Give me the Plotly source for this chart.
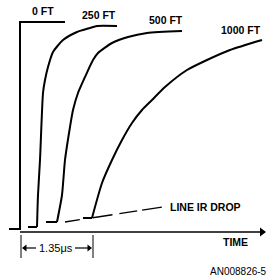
import plotly.graph_objects as go

# ---- data (time units / voltage units) ----
t_0ft = [9, 20, 20, 65]
v_0ft = [50, 50, 257, 257]

t_250ft = [28, 37, 38, 40, 43, 45, 48, 53, 63, 77, 90, 97, 117]
v_250ft = [52, 52, 84, 119, 186, 199, 212, 227, 239, 247, 251, 253, 253]

t_500ft = [46, 57, 62, 65, 70, 73, 78, 85, 93, 98, 112, 128, 147, 182]
v_500ft = [57, 57, 84, 119, 152, 169, 186, 202, 219, 226, 236, 242, 246, 248]

t_1000ft = [83, 92, 102, 112, 122, 132, 142, 152, 165, 187, 207, 230, 262]
v_1000ft = [61, 61, 96, 119, 139, 156, 169, 179, 192, 209, 219, 229, 239]

t_irdrop = [65, 163]
v_irdrop = [57, 72]

t_axis = [20, 262]
v_axis = [47, 47]

dim_t = [21, 93]
dim_v_top = 44
dim_v_bot = 21
dim_v_arrow = 31

series_labels = ["0 FT", "250 FT", "500 FT", "1000 FT"]
label_t = [43, 99, 166, 241]
label_v = [268, 264, 259, 249]

BLACK = "#000000"
LABEL_FONT = dict(family="Liberation Sans, Arial, sans-serif", size=10.5, color=BLACK, weight=700)

fig = go.Figure()

def add_step(t, v):
    # flat baseline with a sharp corner, then the smooth rise
    fig.add_trace(go.Scatter(x=t[:2], y=v[:2], mode="lines",
                             line=dict(color=BLACK, width=2), hoverinfo="skip"))
    fig.add_trace(go.Scatter(x=t[1:], y=v[1:], mode="lines",
                             line=dict(color=BLACK, width=2, shape="spline", smoothing=0.6),
                             hoverinfo="skip"))

fig.add_trace(go.Scatter(x=t_0ft, y=v_0ft, mode="lines",
                         line=dict(color=BLACK, width=2), hoverinfo="skip"))
add_step(t_250ft, v_250ft)
add_step(t_500ft, v_500ft)
add_step(t_1000ft, v_1000ft)

# line IR drop (dashed)
fig.add_trace(go.Scatter(x=t_irdrop, y=v_irdrop, mode="lines",
                         line=dict(color=BLACK, width=1.3,
                                   dash="15px,13px,20px,7px,18px,5px,20px,100px"),
                         hoverinfo="skip"))

# time axis with arrow
fig.add_trace(go.Scatter(x=t_axis, y=v_axis, mode="lines",
                         line=dict(color=BLACK, width=1.5), hoverinfo="skip"))
fig.add_trace(go.Scatter(x=[t_axis[1]], y=[v_axis[1]], mode="markers",
                         marker=dict(symbol="triangle-right", size=8, color=BLACK),
                         hoverinfo="skip"))

# dimension ticks
for t in dim_t:
    fig.add_trace(go.Scatter(x=[t, t], y=[dim_v_top, dim_v_bot], mode="lines",
                             line=dict(color=BLACK, width=1), hoverinfo="skip"))
# dimension arrows
fig.add_trace(go.Scatter(x=[dim_t[0] + 2, dim_t[0] + 15], y=[dim_v_arrow] * 2, mode="lines",
                         line=dict(color=BLACK, width=1.2), hoverinfo="skip"))
fig.add_trace(go.Scatter(x=[dim_t[1] - 18, dim_t[1] - 2], y=[dim_v_arrow] * 2, mode="lines",
                         line=dict(color=BLACK, width=1.2), hoverinfo="skip"))
fig.add_trace(go.Scatter(x=[dim_t[0] + 4, dim_t[1] - 4], y=[dim_v_arrow] * 2, mode="markers",
                         marker=dict(symbol=["triangle-left", "triangle-right"], size=6, color=BLACK),
                         hoverinfo="skip"))

for txt, t, v in zip(series_labels, label_t, label_v):
    fig.add_annotation(x=t, y=v, text=txt, showarrow=False, font=LABEL_FONT,
                       xanchor="center", yanchor="middle")

fig.add_annotation(x=168, y=72, text="LINE IR DROP", showarrow=False, font=LABEL_FONT,
                   xanchor="left", yanchor="middle")
fig.add_annotation(x=235.5, y=37.5, text="TIME", showarrow=False, font=LABEL_FONT,
                   xanchor="center", yanchor="middle")
fig.add_annotation(x=56, y=dim_v_arrow, text="1.35μs", showarrow=False,
                   font=dict(family="Liberation Sans, Arial, sans-serif", size=11, color=BLACK),
                   xanchor="center", yanchor="middle")
fig.add_annotation(x=269, y=8, text="AN008826-5", showarrow=False,
                   font=dict(family="Liberation Sans, Arial, sans-serif", size=10, color=BLACK),
                   xanchor="right", yanchor="middle")

fig.update_layout(
    width=270, height=279,
    margin=dict(l=0, r=0, t=0, b=0),
    paper_bgcolor="white", plot_bgcolor="white",
    showlegend=False,
    xaxis=dict(range=[0, 270], visible=False, fixedrange=True),
    yaxis=dict(range=[0, 279], visible=False, fixedrange=True),
)

fig.write_html("out.html", config={"displayModeBar": False},
               post_script="document.body.style.margin='0px';document.body.style.overflow='hidden';")
